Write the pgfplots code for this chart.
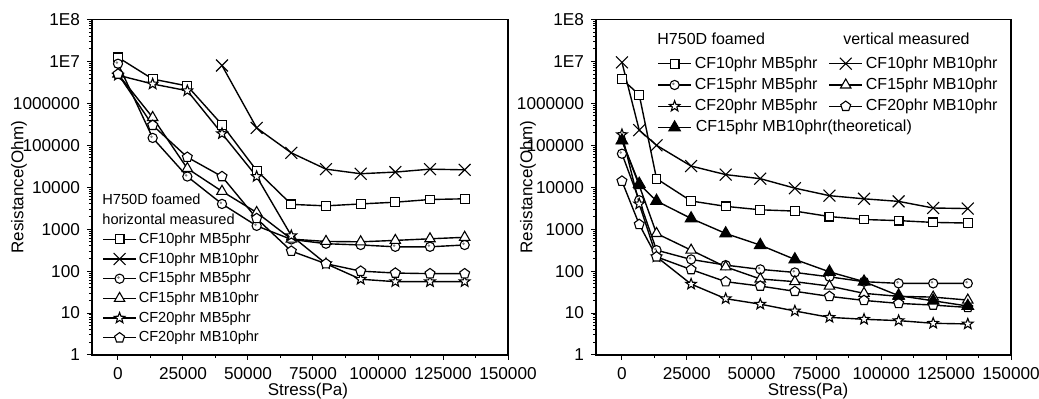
\documentclass[border=0pt]{standalone}
\usepackage{fontspec}
\setmainfont{Liberation Sans}
\usepackage{pgfplots}
\pgfplotsset{compat=1.18}
\usetikzlibrary{plotmarks}

\pgfdeclareplotmark{ostar}{%
 \pgfpathmoveto{\pgfpointpolar{90}{\pgfplotmarksize}}%
 \pgfpathlineto{\pgfpointpolar{126}{0.42\pgfplotmarksize}}%
 \pgfpathlineto{\pgfpointpolar{162}{\pgfplotmarksize}}%
 \pgfpathlineto{\pgfpointpolar{198}{0.42\pgfplotmarksize}}%
 \pgfpathlineto{\pgfpointpolar{234}{\pgfplotmarksize}}%
 \pgfpathlineto{\pgfpointpolar{270}{0.42\pgfplotmarksize}}%
 \pgfpathlineto{\pgfpointpolar{306}{\pgfplotmarksize}}%
 \pgfpathlineto{\pgfpointpolar{342}{0.42\pgfplotmarksize}}%
 \pgfpathlineto{\pgfpointpolar{18}{\pgfplotmarksize}}%
 \pgfpathlineto{\pgfpointpolar{54}{0.42\pgfplotmarksize}}%
 \pgfpathclose
 \pgfusepathqfillstroke}
\pgfdeclareplotmark{odot}{%
 \pgfpathcircle{\pgfpointorigin}{\pgfplotmarksize}%
 \pgfusepathqfillstroke
 \pgfscope
 \pgfsetfillcolor{gray}%
 \pgfsetstrokecolor{gray}%
 \pgfpathcircle{\pgfpoint{-0.25\pgfplotmarksize}{0.25\pgfplotmarksize}}{0.3\pgfplotmarksize}%
 \pgfusepathqfill
 \endpgfscope}

\newcommand{\legfont}{\fontsize{7.3}{9}\selectfont}
\newcommand{\legfontR}{\fontsize{8}{10}\selectfont}

\pgfplotsset{
  legend image code/.code={\draw[mark repeat=2,mark phase=2,#1] plot coordinates {(0pt,0pt) (8.25pt,0pt) (16.5pt,0pt)};},
}
\pgfplotsset{
  sq/.style={mark=square*, mark size=2.2pt},
  crs/.style={mark=x, mark size=4.2pt},
  cdot/.style={mark=odot, mark size=2.3pt},
  tri/.style={mark=triangle*, mark size=3pt},
  stt/.style={mark=ostar, mark size=2.8pt},
  pen/.style={mark=pentagon*, mark size=2.6pt},
  ftri/.style={mark=triangle*, mark size=3.2pt, mark options={fill=black}},
  every axis/.append style={
    scale only axis,
    height=167.75pt,
    xmin=-10000, xmax=150000,
    ymin=1, ymax=100000000,
    scaled x ticks=false,
    xtick={0,25000,50000,75000,100000,125000,150000},
    xticklabels={0,25000,50000,75000,100000,125000,150000},
    minor xtick={12500,37500,62500,87500,112500,137500},
    ytick={1,10,100,1000,10000,100000,1000000,10000000,100000000},
    yticklabels={1,10,100,1000,10000,100000,1000000,1E7,1E8},
    minor ytick={2,3,4,5,6,7,8,9,20,30,40,50,60,70,80,90,200,300,400,500,600,700,800,900,2000,3000,4000,5000,6000,7000,8000,9000,20000,30000,40000,50000,60000,70000,80000,90000,200000,300000,400000,500000,600000,700000,800000,900000,2000000,3000000,4000000,5000000,6000000,7000000,8000000,9000000,20000000,30000000,40000000,50000000,60000000,70000000,80000000,90000000},
    tick pos=left,
    tick align=outside,
    major tick length=2.5pt,
    minor tick length=1.5pt,
    every tick/.style={black, line width=0.5pt},
    axis line style={line width=0.75pt},
    ticklabel style={font=\fontsize{8.6}{10}\selectfont},
    label style={font=\fontsize{8.5}{10}\selectfont},
    xlabel={Stress(Pa)},
    ylabel={Resistance(Ohm)},
    legend cell align=left,
  },
  every axis plot/.append style={black, line width=0.7pt, mark options={solid, fill=white, line width=0.55pt}},
}

\begin{document}
\begin{tikzpicture}
\useasboundingbox (0,0) rectangle (519.5pt,199.5pt);

% ---------------- left: horizontal measured
\begin{semilogyaxis}[
  at={(46pt,22pt)}, anchor=south west, width=208pt,
  xlabel style={at={(axis description cs:0.519,0)}, anchor=base, yshift=-20.5pt},
  ylabel style={at={(axis description cs:-0.1755,0.5)}, anchor=center},
  legend style={at={(axis description cs:0.024,0.3675)}, anchor=north west,
    draw=none, fill=none, inner sep=0pt, row sep=2.65pt, column sep=1pt,
    font=\legfont,
    nodes={inner sep=0pt, text height=5.6pt, text depth=1.6pt}},
]
\addplot[sq] coordinates {(0,12500000) (13333,3800000) (26667,2600000) (40000,310000) (53333,25000) (66667,3900) (80000,3600) (93333,4000) (106667,4400) (120000,5100) (133333,5300)};
\addlegendentry{CF10phr MB5phr}
\addplot[crs] coordinates {(40000,8000000) (53333,260000) (66667,66000) (80000,27000) (93333,21000) (106667,23000) (120000,27000) (133333,26000)};
\addlegendentry{CF10phr MB10phr}
\addplot[cdot] coordinates {(0,8800000) (13333,150000) (26667,18000) (40000,4000) (53333,1200) (66667,570) (80000,450) (93333,420) (106667,380) (120000,380) (133333,420)};
\addlegendentry{CF15phr MB5phr}
\addplot[tri] coordinates {(0,5000000) (13333,460000) (26667,28000) (40000,8000) (53333,2500) (66667,580) (80000,510) (93333,500) (106667,540) (120000,590) (133333,640)};
\addlegendentry{CF15phr MB10phr}
\addplot[stt] coordinates {(0,4700000) (13333,2900000) (26667,2000000) (40000,190000) (53333,18000) (66667,700) (80000,150) (93333,64) (106667,56) (120000,56) (133333,56)};
\addlegendentry{CF20phr MB5phr}
\addplot[pen] coordinates {(0,5000000) (13333,300000) (26667,52000) (40000,18000) (53333,1800) (66667,300) (80000,150) (93333,100) (106667,90) (120000,87) (133333,87)};
\addlegendentry{CF20phr MB10phr}
\node[anchor=west, inner sep=0pt, font=\legfont] at (axis description cs:0.024,0.465) {H750D foamed};
\node[anchor=west, inner sep=0pt, font=\legfont] at (axis description cs:0.024,0.405) {horizontal measured};
\end{semilogyaxis}

% ---------------- right: vertical measured
\begin{semilogyaxis}[
  at={(298pt,22pt)}, anchor=south west, width=207.5pt,
  xlabel style={at={(axis description cs:0.511,0)}, anchor=base, yshift=-20.5pt},
  ylabel style={at={(axis description cs:-0.164,0.5)}, anchor=center},
  legend columns=2,
  legend style={at={(axis description cs:0.147,0.8927)}, anchor=north west,
    draw=none, fill=none, inner sep=0pt, row sep=2.85pt, column sep=1.5pt,
    font=\legfontR,
    nodes={inner sep=0pt, text height=6.1pt, text depth=1.7pt},
    /tikz/every even column/.append style={column sep=5.5pt}},
]
\addplot[sq] coordinates {(0,3800000) (6667,1600000) (13333,16000) (26667,4700) (40000,3500) (53333,2900) (66667,2700) (80000,2000) (93333,1700) (106667,1600) (120000,1450) (133333,1400)};
\addlegendentry{CF10phr MB5phr}
\addplot[crs] coordinates {(0,9500000) (6667,230000) (13333,100000) (26667,32000) (40000,20000) (53333,16000) (66667,9500) (80000,6300) (93333,5300) (106667,4600) (120000,3200) (133333,3100)};
\addlegendentry{CF10phr MB10phr}
\addplot[cdot] coordinates {(0,63000) (6667,4900) (13333,316) (26667,190) (40000,139) (53333,110) (66667,93) (80000,73) (93333,56) (106667,51) (120000,51) (133333,51)};
\addlegendentry{CF15phr MB5phr}
\addplot[tri] coordinates {(0,130000) (6667,11000) (13333,790) (26667,316) (40000,126) (53333,65) (66667,56) (80000,44) (93333,29.5) (106667,25) (120000,24) (133333,20.4)};
\addlegendentry{CF15phr MB10phr}
\addplot[stt] coordinates {(0,180000) (6667,4000) (13333,220) (26667,49) (40000,22) (53333,16.3) (66667,11.2) (80000,7.9) (93333,7.1) (106667,6.6) (120000,5.7) (133333,5.5)};
\addlegendentry{CF20phr MB5phr}
\addplot[pen] coordinates {(0,14000) (6667,1300) (13333,219) (26667,109) (40000,56) (53333,44) (66667,33) (80000,25) (93333,20) (106667,17) (120000,15.5) (133333,13.6)};
\addlegendentry{CF20phr MB10phr}
\addplot[ftri] coordinates {(0,130000) (6667,12000) (13333,4700) (26667,1800) (40000,790) (53333,417) (66667,190) (80000,96) (93333,56) (106667,26) (120000,19.6) (133333,14.7)};
\addlegendentry{\makebox[0pt][l]{CF15phr MB10phr(theoretical)}}
\node[anchor=west, inner sep=0pt, font=\legfontR] at (axis description cs:0.147,0.942) {H750D foamed};
\node[anchor=west, inner sep=0pt, font=\legfontR] at (axis description cs:0.595,0.942) {vertical measured};
\end{semilogyaxis}
\end{tikzpicture}
\end{document}
